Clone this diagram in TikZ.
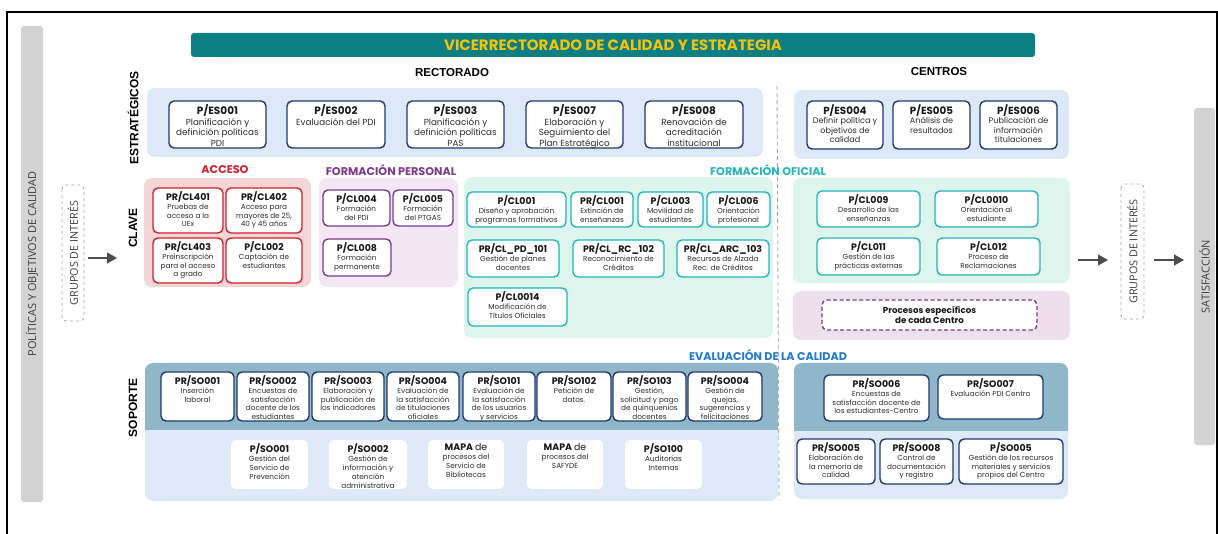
\documentclass[tikz,border=0pt]{standalone}
\usepackage{fontspec}
\setmainfont{Poppins}
\newfontfamily\arb{Liberation Sans}
\newfontfamily\ops{Open Sans}
\usetikzlibrary{arrows.meta}
\definecolor{teal1}{HTML}{0B7F82}
\definecolor{yell}{HTML}{F4C20D}
\definecolor{lblue}{HTML}{DDE9F6}
\definecolor{navy}{HTML}{1E3A70}
\definecolor{pinkp}{HTML}{F5D6D6}
\definecolor{redb}{HTML}{D0202E}
\definecolor{purpp}{HTML}{F4E7F4}
\definecolor{purpb}{HTML}{7D3A8C}
\definecolor{mint}{HTML}{DEF5EE}
\definecolor{tealb}{HTML}{22B5BD}
\definecolor{mauve}{HTML}{EDE0EC}
\definecolor{band}{HTML}{8FB6C9}
\definecolor{evalb}{HTML}{1F7AD4}
\definecolor{greybar}{HTML}{D3D3D3}
\definecolor{arrg}{HTML}{4D4D4D}
\definecolor{txtg}{HTML}{2E2E2E}
\newcommand\bx[9]{%
  \node[#1, minimum width={#6-#4}, minimum height={#7-#5}] (#3) at ({(#4+#6)/2},{(#5+#7)/2}) {};
  \node[#2, anchor=north] (#3-t) at ([yshift=-4pt]#3.north) {{\idf\bfseries\color{black!90}#8}\\#9};}
\begin{document}
\begin{tikzpicture}[x=1pt,y=-1pt,
  sbox/.style={draw=navy, line width=1.4pt, fill=white, rounded corners=5pt, inner sep=0pt},
  abox/.style={sbox, draw=redb},
  pbox/.style={sbox, draw=purpb},
  obox/.style={sbox, draw=tealb},
  wbox/.style={fill=white, draw=none, rounded corners=5pt, inner sep=0pt},
  txtS/.style={align=center, inner sep=0pt, text=txtg,
     font={\def\idf{\fontsize{10.5}{10.6}\selectfont}\fontsize{8.8}{10.6}\selectfont}},
  txtM/.style={align=center, inner sep=0pt, text=txtg,
     font={\def\idf{\fontsize{10.3}{10}\selectfont}\fontsize{8.1}{9.4}\selectfont}},
  txtC/.style={align=center, inner sep=0pt, text=txtg,
     font={\def\idf{\fontsize{9.4}{9}\selectfont}\fontsize{7.3}{8.8}\selectfont}},
  panel/.style={rounded corners=8pt},
  rowlab/.style={rotate=90, font=\arb\bfseries\fontsize{12}{12}\selectfont, inner sep=0pt},
  grp/.style={rotate=90, draw=gray!70, dashed, line width=0.8pt, fill=white, rounded corners=4pt,
     font=\ops\fontsize{10.8}{10.8}\selectfont, text=black!75, inner sep=0pt},
  bar/.style={rotate=90, fill=greybar, rounded corners=3pt, inner sep=0pt,
     font=\ops\fontsize{11}{11}\selectfont, text=black!75},
  arr/.style={draw=arrg, line width=1.3pt, -{Triangle[length=10pt,width=11pt]}},
  seclab/.style={font=\bfseries\fontsize{11.2}{11.2}\selectfont, inner sep=0pt},
  hdr/.style={font=\arb\bfseries\fontsize{11.5}{11.5}\selectfont, inner sep=0pt}]
\useasboundingbox (0,0) rectangle (1218,534);
% frame
\draw[line width=1.2pt] (7,540) -- (7,12) -- (1217,12) -- (1217,540);
% side bars
\node[bar, minimum width=476, minimum height=22] (pol) at (32,264) {POLÍTICAS Y OBJETIVOS DE CALIDAD};
\node[bar, minimum width=337, minimum height=21] (sat) at (1204.5,276.5) {SATISFACCIÓN};
\node[grp, minimum width=136, minimum height=22] (gl) at (73,253) {GRUPOS DE INTERÉS};
\node[grp, minimum width=135, minimum height=23] (gr) at (1132.5,251.5) {GRUPOS DE INTERÉS};
% title
\node[fill=teal1, rounded corners=3pt, minimum width=844, minimum height=24, inner sep=0pt,
  text=yell, font=\bfseries\fontsize{15}{15}\selectfont] (title) at (613,45) {VICERRECTORADO DE CALIDAD Y ESTRATEGIA};
\node[hdr] (rect) at (452,73) {RECTORADO};
\node[hdr] (cent) at (939,72) {CENTROS};
% row labels
\node[rowlab] (lest) at (133,118) {ESTRATÉGICOS};
\node[rowlab] (lcla) at (133,228) {CLAVE};
\node[rowlab] (lsop) at (133,408) {SOPORTE};
% dashed divider
\coordinate (dv1) at (777,86);
\coordinate (dv2) at (779,500);
\draw[gray!70, line width=0.9pt, dash pattern=on 4pt off 3pt] (dv1) -- (dv2);
% panels
\fill[lblue, panel] (147,88) rectangle (763,157);
\fill[lblue, panel] (794,90) rectangle (1069,159);
\fill[pinkp, panel] (144,178) rectangle (311,287);
\fill[purpp, panel] (319,178) rectangle (458,287);
\fill[mint, panel] (464,177) rectangle (773,338);
\fill[mint, panel] (793,178) rectangle (1070,283);
\fill[mauve, panel] (793,291) rectangle (1070,340);
\fill[lblue, panel] (145,363) rectangle (778,501);
\fill[band, panel] (145,363) rectangle (778,442);
\fill[lblue] (145,430) rectangle (778,443);
\fill[lblue, panel] (794,363) rectangle (1068,499);
\fill[band, panel] (794,363) rectangle (1068,443);
\fill[lblue] (794,431) rectangle (1068,444);
% section labels
\node[seclab, text=redb] (lacc) at (225,170) {ACCESO};
\node[seclab, text=purpb] (lfp) at (391,170) {FORMACIÓN PERSONAL};
\node[seclab, text=tealb] (lfo) at (768,170) {FORMACIÓN OFICIAL};
\node[seclab, text=evalb] (lev) at (768,355) {EVALUACIÓN DE LA CALIDAD};
% strategic
\bx{sbox}{txtS}{es001}{169}{101}{266}{148}{P/ES001}{Planificación y\\definición políticas\\PDI}
\bx{sbox}{txtS}{es002}{287}{101}{385}{148}{P/ES002}{Evaluación del PDI}
\bx{sbox}{txtS}{es003}{407}{101}{504}{148}{P/ES003}{Planificación y\\definición políticas\\PAS}
\bx{sbox}{txtS}{es007}{526}{101}{623}{148}{P/ES007}{Elaboración y\\Seguimiento del\\Plan Estratégico}
\bx{sbox}{txtS}{es008}{645}{101}{743}{148}{P/ES008}{Renovación de\\acreditación\\institucional}
\bx{sbox}{txtM}{es004}{807}{101}{883}{149}{P/ES004}{Definir política y\\objetivos de\\calidad}
\bx{sbox}{txtM}{es005}{893}{101}{970}{149}{P/ES005}{Análisis de\\resultados}
\bx{sbox}{txtM}{es006}{980}{101}{1057}{149}{P/ES006}{Publicación de\\información\\titulaciones}
% acceso
\bx{abox}{txtC}{cl401}{153}{188}{223}{233}{PR/CL401}{Pruebas de\\acceso a la\\UEx}
\bx{abox}{txtC}{cl402}{226}{188}{302}{233}{PR/CL402}{Acceso para\\mayores de 25,\\40 y 45 años}
\bx{abox}{txtC}{cl403}{153}{238}{223}{283}{PR/CL403}{Preinscripción\\para el acceso\\a grado}
\bx{abox}{txtC}{cl002}{226}{238}{302}{283}{P/CL002}{Captación de\\estudiantes}
% formacion personal
\bx{pbox}{txtC}{cl004}{323}{190}{390}{226}{P/CL004}{Formación\\del PDI}
\bx{pbox}{txtC}{cl005}{393}{190}{453}{226}{P/CL005}{Formación\\del PTGAS}
\bx{pbox}{txtC}{cl008}{323}{239}{391}{276}{P/CL008}{Formación\\permanente}
% formacion oficial
\bx{obox}{txtC}{cl001}{467}{192}{566}{227}{P/CL001}{Diseño y aprobación\\programas formativos}
\bx{obox}{txtC}{prcl001}{571}{192}{633}{227}{PR/CL001}{Extinción de\\enseñanzas}
\bx{obox}{txtC}{cl003}{638}{192}{703}{227}{P/CL003}{Movilidad de\\estudiantes}
\bx{obox}{txtC}{cl006}{707}{192}{770}{227}{P/CL006}{Orientación\\profesional}
\bx{obox}{txtC}{pd101}{467}{240}{559}{277}{PR/CL\_PD\_101}{Gestión de planes\\docentes}
\bx{obox}{txtC}{rc102}{573}{240}{664}{277}{PR/CL\_RC\_102}{Reconocimiento de\\Créditos}
\bx{obox}{txtC}{arc103}{677}{240}{769}{277}{PR/CL\_ARC\_103}{Recursos de Alzada\\Rec. de Créditos}
\bx{obox}{txtC}{cl0014}{468}{288}{567}{326}{P/CL0014}{Modificación de\\Títulos Oficiales}
% centros clave
\bx{obox}{txtC}{cl009}{817}{191}{920}{227}{P/CL009}{Desarrollo de las\\enseñanzas}
\bx{obox}{txtC}{cl0010}{935}{191}{1038}{227}{P/CL0010}{Orientación al\\estudiante}
\bx{obox}{txtC}{cl011}{817}{238}{920}{275}{P/CL011}{Gestión de las\\prácticas externas}
\bx{obox}{txtC}{cl012}{937}{238}{1040}{275}{P/CL012}{Proceso de\\Reclamaciones}
\node[draw=purpb, line width=1.4pt, dash pattern=on 4pt off 2.5pt, fill=white, rounded corners=5pt,
  minimum width=215, minimum height=30, inner sep=0pt, align=center, text=black!90,
  font=\bfseries\fontsize{8.7}{10}\selectfont] (spec) at (929.5,315) {Procesos específicos\\de cada Centro};
% soporte rectorado
\bx{sbox}{txtC}{so001}{161}{372}{234}{421}{PR/SO001}{Inserción\\laboral}
\bx{sbox}{txtC}{so002}{237}{372}{309}{421}{PR/SO002}{Encuestas de\\satisfacción\\docente de los\\estudiantes}
\bx{sbox}{txtC}{so003}{312}{372}{384}{421}{PR/SO003}{Elaboración y\\publicación de\\los indicadores}
\bx{sbox}{txtC}{so004}{387}{372}{459}{421}{PR/SO004}{Evaluación de\\la satisfacción\\de titulaciones\\oficiales}
\bx{sbox}{txtC}{so101}{463}{372}{535}{421}{PR/SO101}{Evaluación de\\la satisfacción\\de los usuarios\\y servicios}
\bx{sbox}{txtC}{so102}{537}{372}{611}{421}{PR/SO102}{Petición de\\datos.}
\bx{sbox}{txtC}{so103}{613}{372}{686}{421}{PR/SO103}{Gestión,\\solicitud y pago\\de quinquenios\\docentes}
\bx{sbox}{txtC}{so004b}{688}{372}{762}{421}{PR/SO004}{Gestión de\\quejas,\\sugerencias y\\felicitaciones}
\bx{wbox}{txtC}{pso001}{231}{440}{308}{489}{P/SO001}{Gestión del\\Servicio de\\Prevención}
\bx{wbox}{txtC}{pso002}{329}{440}{407}{489}{P/SO002}{Gestión de\\información y\\atención\\administrativa}
\bx{wbox}{txtC}{mapa1}{428}{440}{504}{489}{MAPA {\mdseries de}}{procesos del\\Servicio de\\Bibliotecas}
\bx{wbox}{txtC}{mapa2}{527}{440}{603}{489}{MAPA {\mdseries de}}{procesos del\\SAFYDE}
\bx{wbox}{txtC}{so100}{625}{440}{702}{489}{P/SO100}{Auditorías\\Internas}
% soporte centros
\bx{sbox}{txtC}{so006}{824}{375}{929}{421}{PR/SO006}{Encuestas de\\satisfacción docente de\\los estudiantes-Centro}
\bx{sbox}{txtC}{so007}{938}{375}{1043}{419}{PR/SO007}{Evaluación PDI Centro}
\bx{sbox}{txtC}{so005}{797}{439}{875}{484}{PR/SO005}{Elaboración de\\la memoria de\\calidad}
\bx{sbox}{txtC}{so008}{880}{439}{953}{484}{PR/SO008}{Control de\\documentación\\y registro}
\bx{sbox}{txtC}{pso005}{959}{439}{1063}{484}{P/SO005}{Gestión de los recursos\\materiales y servicios\\propios del Centro}
% arrows
\coordinate (a1s) at (88,258);
\coordinate (a1e) at (117,258);
\coordinate (a2s) at (1078,260);
\coordinate (a2e) at (1108,260);
\coordinate (a3s) at (1154,260);
\coordinate (a3e) at (1184,260);
\draw[arr] (a1s) -- (a1e);
\draw[arr] (a2s) -- (a2e);
\draw[arr] (a3s) -- (a3e);
\end{tikzpicture}
\end{document}
